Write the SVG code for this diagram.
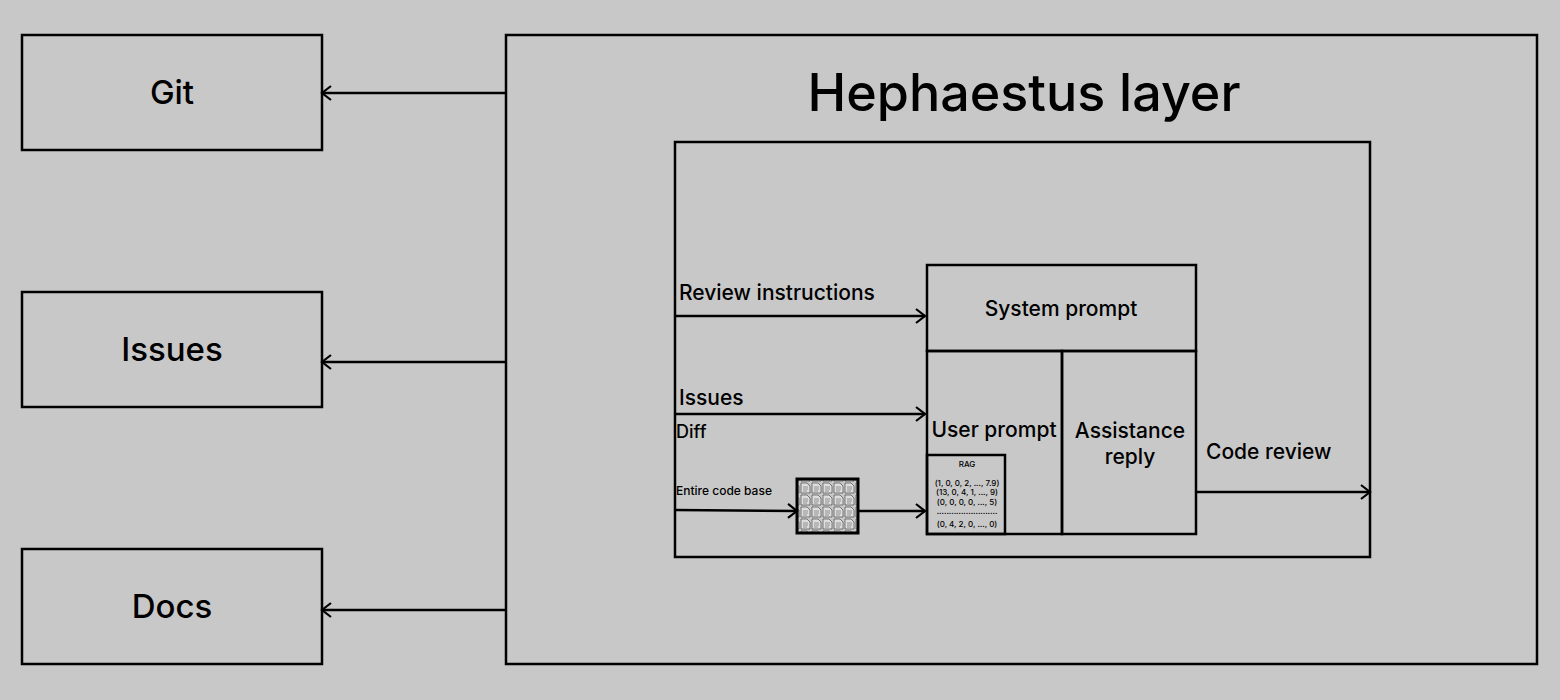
<svg xmlns="http://www.w3.org/2000/svg" width="1560" height="700" viewBox="0 0 1560 700">
<style>
.b{fill:none;stroke:#000;stroke-width:2.5}
.c{fill:none;stroke:#000;stroke-width:2.5}
text{font-family:Inter,"Liberation Sans",sans-serif;fill:#000;font-weight:500}
.d{fill:#ddd;stroke:#333;stroke-width:0.6}
</style>
<defs>
<marker id="a" markerWidth="16" markerHeight="16" refX="13" refY="8" orient="auto" markerUnits="userSpaceOnUse">
<polyline points="4,1 13,8 4,15" fill="none" stroke="#000" stroke-width="2.2"/>
</marker>
<pattern id="doc" width="11" height="12" patternUnits="userSpaceOnUse" x="800" y="482">
<path d="M1,1 h6 l3,3 v7 h-9 z" class="d"/><path d="M3,5h5M3,7h5M3,9h4" stroke="#444" stroke-width="0.5"/>
</pattern>
</defs>
<rect width="1560" height="700" fill="#c8c8c8"/>
<g id="git"><rect class="b" x="22" y="35" width="300" height="115"/><text x="172" y="104" font-size="33" text-anchor="middle">Git</text></g>
<g id="issues"><rect class="b" x="22" y="292" width="300" height="115"/><text x="172" y="361" font-size="33" text-anchor="middle">Issues</text></g>
<g id="docs"><rect class="b" x="22" y="549" width="300" height="115"/><text x="172" y="618" font-size="33" text-anchor="middle">Docs</text></g>
<g id="hephaestus"><rect class="b" x="506" y="35" width="1031" height="629"/><text x="1024" y="111" font-size="52" text-anchor="middle">Hephaestus layer</text></g>
<g id="inner"><rect class="b" x="675" y="142" width="695" height="415"/></g>
<g id="system"><rect class="b" x="927" y="265" width="269" height="86"/><text x="1061" y="316" font-size="21" text-anchor="middle">System prompt</text></g>
<g id="user"><rect class="b" x="927" y="351" width="135" height="183"/><text x="994" y="437" font-size="21" text-anchor="middle">User prompt</text></g>
<g id="assist"><rect class="b" x="1062" y="351" width="134" height="183"/><text x="1130" y="438" font-size="21" text-anchor="middle">Assistance</text><text x="1130" y="464" font-size="21" text-anchor="middle">reply</text></g>
<g id="rag"><rect class="b" x="927" y="455" width="78" height="79"/>
<g font-size="8" text-anchor="middle"><text x="967" y="467">RAG</text><text x="967" y="486">(1, 0, 0, 2, ..., 7.9)</text><text x="967" y="495">(13, 0, 4, 1, ..., 9)</text><text x="967" y="505">(0, 0, 0, 0, ..., 5)</text><text x="967" y="514">.........................</text><text x="967" y="527">(0, 4, 2, 0, ..., 0)</text></g></g>
<g id="codebase"><rect x="797" y="479" width="61" height="54" fill="url(#doc)" stroke="#000" stroke-width="3"/></g>
<g id="connectors" class="c">
<line x1="506" y1="93" x2="322" y2="93" marker-end="url(#a)"/>
<line x1="506" y1="362" x2="322" y2="362" marker-end="url(#a)"/>
<line x1="506" y1="610" x2="322" y2="610" marker-end="url(#a)"/>
<line x1="675" y1="316" x2="925" y2="316" marker-end="url(#a)"/>
<line x1="675" y1="414" x2="925" y2="414" marker-end="url(#a)"/>
<line x1="675" y1="510" x2="797" y2="511" marker-end="url(#a)"/>
<line x1="858" y1="511" x2="925" y2="511" marker-end="url(#a)"/>
<line x1="1196" y1="492" x2="1370" y2="492" marker-end="url(#a)"/>
</g>
<g id="labels">
<text x="679" y="300" font-size="21">Review instructions</text>
<text x="679" y="405" font-size="21">Issues</text>
<text x="676" y="438" font-size="18">Diff</text>
<text x="676" y="495" font-size="12">Entire code base</text>
<text x="1206" y="459" font-size="21">Code review</text>
</g>
</svg>
